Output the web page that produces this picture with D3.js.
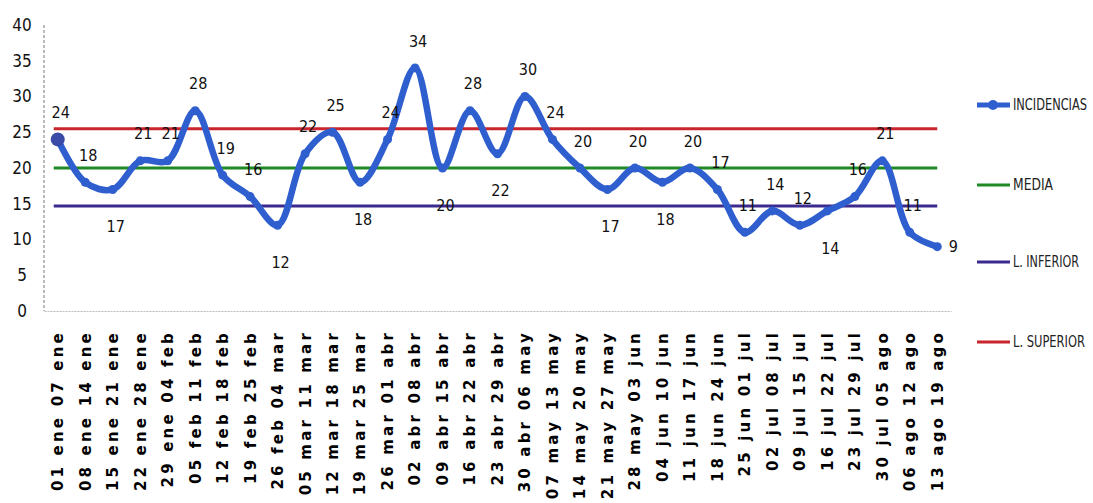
<!DOCTYPE html>
<html>
<head>
<meta charset="utf-8">
<script src="https://cdn.jsdelivr.net/npm/d3@7"></script>
<style>
  body { margin: 0; background: #fff; }
  svg { display: block; }
</style>
</head>
<body>
<svg width="1093" height="503"></svg>
<script>
// weekly periods
var weeks = ["01 ene 07 ene","08 ene 14 ene","15 ene 21 ene","22 ene 28 ene","29 ene 04 feb",
  "05 feb 11 feb","12 feb 18 feb","19 feb 25 feb","26 feb 04 mar","05 mar 11 mar",
  "12 mar 18 mar","19 mar 25 mar","26 mar 01 abr","02 abr 08 abr","09 abr 15 abr",
  "16 abr 22 abr","23 abr 29 abr","30 abr 06 may","07 may 13 may","14 may 20 may",
  "21 may 27 may","28 may 03 jun","04 jun 10 jun","11 jun 17 jun","18 jun 24 jun",
  "25 jun 01 jul","02 jul 08 jul","09 jul 15 jul","16 jul 22 jul","23 jul 29 jul",
  "30 jul 05 ago","06 ago 12 ago","13 ago 19 ago"];
var incidencias = [24,18,17,21,21,28,19,16,12,22,25,18,24,34,20,28,22,30,24,20,17,20,18,20,17,11,14,12,14,16,21,11,9];
var media = 20;
var limInferior = 14.7;
var limSuperior = 25.5;
var yTicks = [0,5,10,15,20,25,30,35,40];
var seriesNames = ["INCIDENCIAS","MEDIA","L. INFERIOR","L. SUPERIOR"];

// where each value label sits: t = above, b = below, r = right
var labelSide = ["t","t","b","t","t","t","t","t","b","t","t","b","t","t","b","t","b","t","t","t",
  "b","t","b","t","t","t","t","t","b","t","t","t","r"];

var svg = d3.select("svg");
var pLeft = 44, pRight = 951, pTop = 25, pBottom = 311;

var x = d3.scaleBand().domain(weeks).range([pLeft, pRight]);
var y = d3.scaleLinear().domain([0, 40]).range([pBottom, pTop]);
var cx = function(d, i) { return x(weeks[i]) + x.bandwidth() / 2; };

var blue = "#2f5fcf", green = "#1f8a24", purple = "#3d2a8e", red = "#c9252c";

// y axis
var ya = svg.append("g")
  .attr("transform", "translate(" + pLeft + ",0)")
  .call(d3.axisLeft(y).tickValues(yTicks).tickSize(0).tickPadding(0));
ya.select(".domain").remove();
ya.selectAll("text")
  .attr("x", -22).style("text-anchor", "middle")
  .style("font-family", "'DejaVu Sans Condensed', 'Liberation Sans Narrow', sans-serif")
  .style("font-size", "17px").style("fill", "#111");
svg.append("line")
  .attr("x1", pLeft).attr("x2", pLeft).attr("y1", pTop).attr("y2", pBottom)
  .attr("stroke", "#777").attr("stroke-dasharray", "3,2").attr("stroke-width", 1);

// x axis
var xa = svg.append("g")
  .attr("transform", "translate(0," + pBottom + ")")
  .call(d3.axisBottom(x).tickSize(0));
xa.select(".domain").attr("stroke", "#bbb").attr("stroke-dasharray", "2,1");
xa.selectAll("text")
  .attr("transform", "rotate(-90)")
  .attr("x", -19).attr("y", 0).attr("dy", "0.36em")
  .style("text-anchor", "end")
  .style("font-family", "'DejaVu Sans', sans-serif")
  .style("font-weight", "bold")
  .style("font-size", "15px")
  .style("letter-spacing", "3.2px")
  .style("fill", "#000");

// reference lines
[[limSuperior, red], [media, green], [limInferior, purple]].forEach(function(r) {
  svg.append("line")
    .attr("x1", x(weeks[0]) + x.bandwidth() / 2 - 4)
    .attr("x2", x(weeks[weeks.length - 1]) + x.bandwidth() / 2)
    .attr("y1", y(r[0])).attr("y2", y(r[0]))
    .attr("stroke", r[1]).attr("stroke-width", 3);
});

// incidencias line
var line = d3.line()
  .x(cx)
  .y(function(d) { return y(d); })
  .curve(d3.curveCatmullRom.alpha(0.5));
svg.append("path")
  .datum(incidencias)
  .attr("d", line)
  .attr("fill", "none")
  .attr("stroke", blue)
  .attr("stroke-width", 6.5)
  .attr("stroke-linejoin", "round");
svg.selectAll("circle.pt")
  .data(incidencias)
  .enter().append("circle")
  .attr("class", "pt")
  .attr("cx", cx)
  .attr("cy", function(d) { return y(d); })
  .attr("r", 4.5)
  .attr("fill", blue);
svg.append("circle")
  .attr("cx", cx(incidencias[0], 0)).attr("cy", y(incidencias[0]))
  .attr("r", 7).attr("fill", "#3a4aa6");

// value labels
svg.selectAll("text.val")
  .data(incidencias)
  .enter().append("text")
  .attr("class", "val")
  .attr("x", function(d, i) { return cx(d, i) + (labelSide[i] == "r" ? 16 : 3); })
  .attr("y", function(d, i) {
    var s = labelSide[i];
    return y(d) + (s == "t" ? -27 : s == "b" ? 37 : 0);
  })
  .attr("dy", "0.35em")
  .style("text-anchor", "middle")
  .style("font-family", "'DejaVu Sans Condensed', 'Liberation Sans Narrow', sans-serif")
  .style("font-size", "16px")
  .style("fill", "#111")
  .text(function(d) { return d; });

// legend
var legY = [105, 185, 262, 342];
var legColor = [blue, green, purple, red];
var legW = [74, 40, 66, 72];
var leg = svg.selectAll("g.leg")
  .data(seriesNames)
  .enter().append("g")
  .attr("class", "leg")
  .attr("transform", function(d, i) { return "translate(977," + legY[i] + ")"; });
leg.append("line")
  .attr("x1", 0).attr("x2", 33)
  .attr("stroke", function(d, i) { return legColor[i]; })
  .attr("stroke-width", function(d, i) { return i == 0 ? 5 : 3; });
leg.filter(function(d, i) { return i == 0; })
  .append("circle").attr("cx", 16).attr("r", 5).attr("fill", blue);
leg.append("text")
  .attr("x", 36).attr("dy", "0.35em")
  .attr("textLength", function(d, i) { return legW[i]; })
  .attr("lengthAdjust", "spacingAndGlyphs")
  .style("font-family", "'DejaVu Sans Condensed', sans-serif")
  .style("font-size", "15px")
  .style("fill", "#222")
  .text(function(d) { return d; });
</script>
</body>
</html>
